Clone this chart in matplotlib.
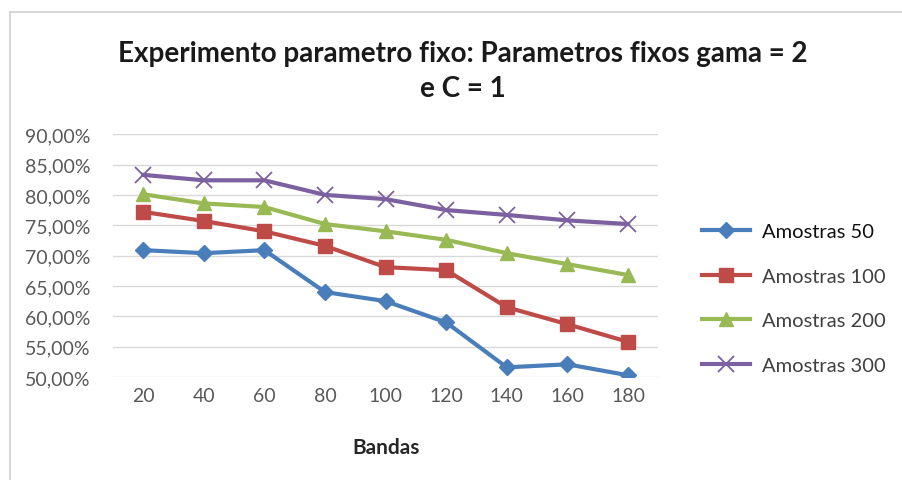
import matplotlib.pyplot as plt
from matplotlib.lines import Line2D
from matplotlib.ticker import FuncFormatter

bandas = [20, 40, 60, 80, 100, 120, 140, 160, 180]
amostras_50 = [70.9, 70.4, 70.9, 64.0, 62.5, 59.0, 51.6, 52.1, 50.3]
amostras_100 = [77.2, 75.7, 74.0, 71.6, 68.1, 67.6, 61.5, 58.7, 55.8]
amostras_200 = [80.1, 78.6, 78.0, 75.2, 74.0, 72.6, 70.4, 68.6, 66.8]
amostras_300 = [83.3, 82.4, 82.4, 80.0, 79.3, 77.5, 76.7, 75.8, 75.2]
series_labels = ["Amostras 50", "Amostras 100", "Amostras 200", "Amostras 300"]

plt.rcParams["font.family"] = ["Lato", "DejaVu Sans"]

fig = plt.figure(figsize=(9.03, 4.81), dpi=100)
ax = fig.add_axes([0.125, 0.214, 0.604, 0.505])

# chart frame (left and top edge only)
fig.add_artist(Line2D([0.011, 0.011], [0, 0.973], color="#d0d0d0", lw=1.2))
fig.add_artist(Line2D([0.011, 1.0], [0.973, 0.973], color="#d0d0d0", lw=1.2))

styles = [
    dict(color="#4a7ebb", marker="D", markersize=8),
    dict(color="#be4b48", marker="s", markersize=10),
    dict(color="#98b954", marker="^", markersize=10),
    dict(color="#7d60a0", marker="x", markersize=12, markeredgewidth=1.3),
]
xs = list(range(len(bandas)))
for vals, label, st in zip([amostras_50, amostras_100, amostras_200, amostras_300],
                           series_labels, styles):
    ax.plot(xs, vals, lw=3, label=label, solid_joinstyle="round", **st)

ax.set_xlim(-0.5, len(bandas) - 0.5)
ax.set_ylim(50, 90)
ax.set_yticks(range(50, 91, 5))
ax.yaxis.set_major_formatter(FuncFormatter(lambda v, p: f"{v:.2f}%".replace(".", ",")))
ax.set_xticks(xs)
ax.set_xticklabels([str(b) for b in bandas])
ax.grid(axis="y", color="#d9d9d9", lw=1)
ax.set_axisbelow(True)
for s in ax.spines.values():
    s.set_visible(False)
ax.tick_params(length=0, labelsize=14, labelcolor="#595959", pad=7)
ax.tick_params(axis="y", pad=16)

ax.set_xlabel("Bandas", fontsize=15, fontweight="bold", color="#262626", labelpad=24)
fig.text(0.513, 0.888, "Experimento parametro fixo: Parametros fixos gama = 2",
         ha="center", va="center", fontsize=20, fontweight="bold", color="#1a1a1a")
fig.text(0.513, 0.815, "e C = 1", ha="center", va="center",
         fontsize=20, fontweight="bold", color="#1a1a1a")

leg = fig.legend(loc="center left", bbox_to_anchor=(0.757, 0.377), frameon=False,
                 fontsize=14.5, labelspacing=1.36, handlelength=2.4, handletextpad=0.6)
for t in leg.get_texts():
    t.set_color("#404040")
leg.get_texts()[0].set_color("#111111")

fig.savefig("out.png", dpi=100)
